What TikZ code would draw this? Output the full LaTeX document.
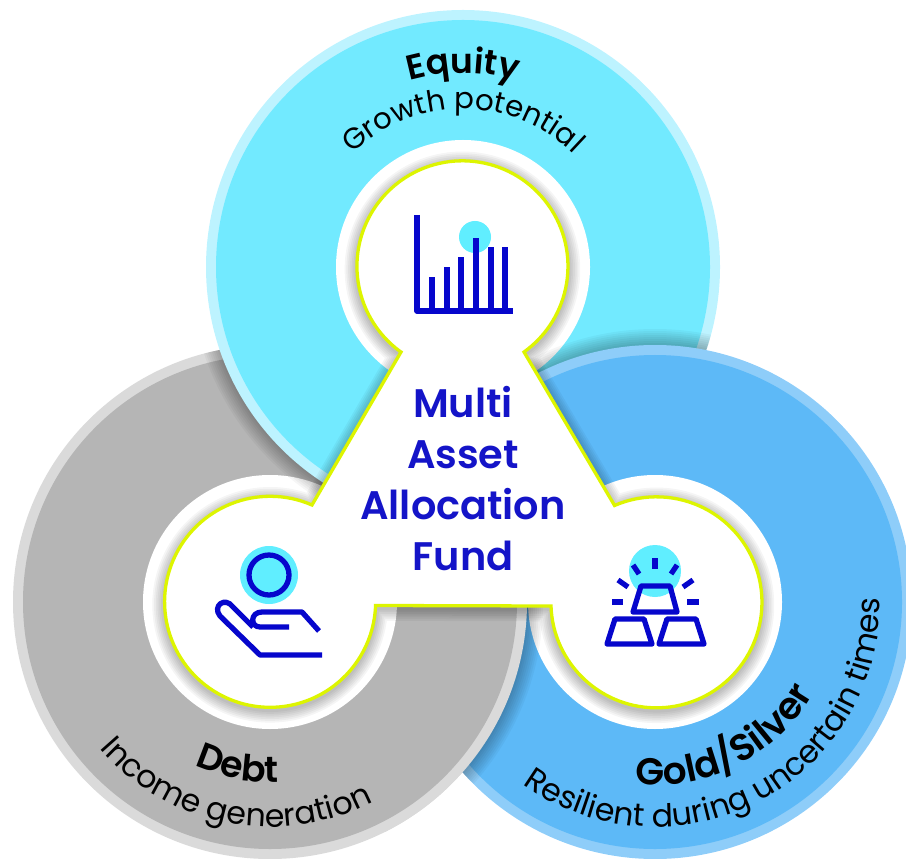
\documentclass[tikz,border=0pt]{standalone}
\usepackage{fontspec}
\setmainfont{Poppins}
\newfontfamily\semifont{Poppins SemiBold}
\usetikzlibrary{decorations.text}
\definecolor{equityfill}{HTML}{72EAFF}
\definecolor{equityrim}{HTML}{BDF3FF}
\definecolor{debtfill}{HTML}{B5B5B5}
\definecolor{debtrim}{HTML}{DADADA}
\definecolor{goldfill}{HTML}{5DB9F7}
\definecolor{goldrim}{HTML}{8ECDF9}
\definecolor{hubline}{HTML}{DDF500}
\definecolor{iconblue}{HTML}{0606CC}
\definecolor{hubblue}{HTML}{1414C8}
\definecolor{icondot}{HTML}{60EEFF}
\newcommand{\headfont}{\fontsize{29.5}{32}\semifont\selectfont}
\newcommand{\subfont}{\fontsize{27}{30}\selectfont}
\tikzset{
  icon/.style={draw=iconblue, line width=4.5, line join=round},
  hubtext/.style={font=\fontsize{34}{43.5}\semifont\selectfont, text=hubblue, align=center, inner sep=0pt},
  curved/.style={postaction={decorate}, decoration={text along path, text align=center, text={#1}}},
}
% one coloured ring: centre, fill, rim, the ring below it
\newcommand{\assetring}[4]{%
  \begin{scope}
    \clip (#4) circle[radius=\Rout];
    \foreach \s in {2,4,...,16}
      \fill[black, opacity=.035] (#1) circle[radius={257+\s}];
  \end{scope}
  \fill[#3] (#1) circle[radius=\Rout];
  \fill[#2] (#1) circle[radius=\Rfill];
  \fill[white] (#1) circle[radius=\Rhole];
}
\begin{document}
\begin{tikzpicture}[x=0.03cm, y=0.03cm]
  % --- sizes (picture pixels)
  \def\Rout{257}    % outer edge
  \def\Rfill{247}   % inside the rim
  \def\Rhole{127}   % white hole
  \def\Rhub{105.5}  % yellow outline

  \useasboundingbox (0,0) rectangle (906,858);

  \coordinate (equity) at (463,591);
  \coordinate (debt) at (270,256);
  \coordinate (gold) at (655,256);

  %---------------------------------------
  % rings, each one over the next
  \fill[debtrim] (debt) circle[radius=\Rout];
  \fill[debtfill] (debt) circle[radius=\Rfill];
  \fill[white] (debt) circle[radius=\Rhole];
  \assetring{equity}{equityfill}{equityrim}{debt}
  \assetring{gold}{goldfill}{goldrim}{equity}
  \begin{scope}
    \clip (385,0) rectangle (545,338);
    \assetring{debt}{debtfill}{debtrim}{gold}
  \end{scope}

  %---------------------------------------
  % centre shape
  \def\hubpath{(401,506) -- (312,353)
    arc[start angle=66.6, end angle=358, radius=\Rhub] -- (551,252)
    arc[start angle=182, end angle=473.4, radius=\Rhub] -- (524,506)
    arc[start angle=-54.3, end angle=233.9, radius=\Rhub] -- cycle}
  \foreach \w in {3,6,...,21}
    \draw[black, opacity=.04, line width=\w, line join=round, shift={(0,-3)}] \hubpath;
  \draw[fill=white, draw=hubline, line width=2.8] \hubpath;

  \node[hubtext] (hublabel) at (463,379) {Multi\\Asset\\Allocation\\Fund};

  %---------------------------------------
  % chart
  \fill[icondot] (475,621) circle[radius=16];
  \draw[icon] (417,643) -- (417,547) -- (513,547);
  \foreach \x/\t in {432/581,447/591,461/601,476/620,491/611,505/611}
    \draw[icon] (\x,547) -- (\x,\t);

  % hand
  \fill[icondot] (269,283) circle[radius=29];
  \draw[icon] (269,283) circle[radius=20];
  \draw[icon] (322,203) -- (260,203) -- (220,242)
    .. controls (212,252) and (225,262) .. (233,251) -- (253,231);
  \draw[icon] (289,231) -- (260,231) .. controls (250,231) and (250,246) .. (262,246)
    -- (302,246) -- (319,227);

  % bars
  \fill[icondot] (655,287) circle[radius=26];
  \draw[icon] (641,272) -- (670,272) -- (677,246) -- (633,246) -- cycle;
  \draw[icon] (615,239) -- (644,239) -- (652,214) -- (607,214) -- cycle;
  \draw[icon] (667,239) -- (696,239) -- (704,214) -- (659,214) -- cycle;
  \foreach \a/\b/\c/\d in {655/300/655/289, 633/293/639/284, 677/293/671/284,
      618/278/628/271, 693/278/683/271, 612/256/623/256, 687/256/699/256}
    \draw[icon] (\a,\b) -- (\c,\d);

  %---------------------------------------
  % curved labels
  \path[curved={|\headfont|Equity}] ([shift={(463,591)}]150:194) arc[start angle=150, end angle=30, radius=194];
  \path[curved={|\fontsize{25}{30}\selectfont|Growth potential}] ([shift={(463,591)}]165:158) arc[start angle=165, end angle=15, radius=158];
  \path[curved={|\fontsize{31}{32}\semifont\selectfont|Debt}] ([shift={(270,256)}]199:180) arc[start angle=199, end angle=319, radius=180];
  \path[curved={|\subfont|Income generation}] ([shift={(270,256)}]190:225) arc[start angle=190, end angle=328, radius=225];
  \path[curved={|\fontsize{32}{32}\semifont\selectfont|Gold/Silver}] ([shift={(655,256)}]227:183) arc[start angle=227, end angle=367, radius=183];
  \path[curved={|\subfont|Resilient during uncertain times}] ([shift={(655,256)}]215:225) arc[start angle=215, end angle=380, radius=225];
\end{tikzpicture}
\end{document}
